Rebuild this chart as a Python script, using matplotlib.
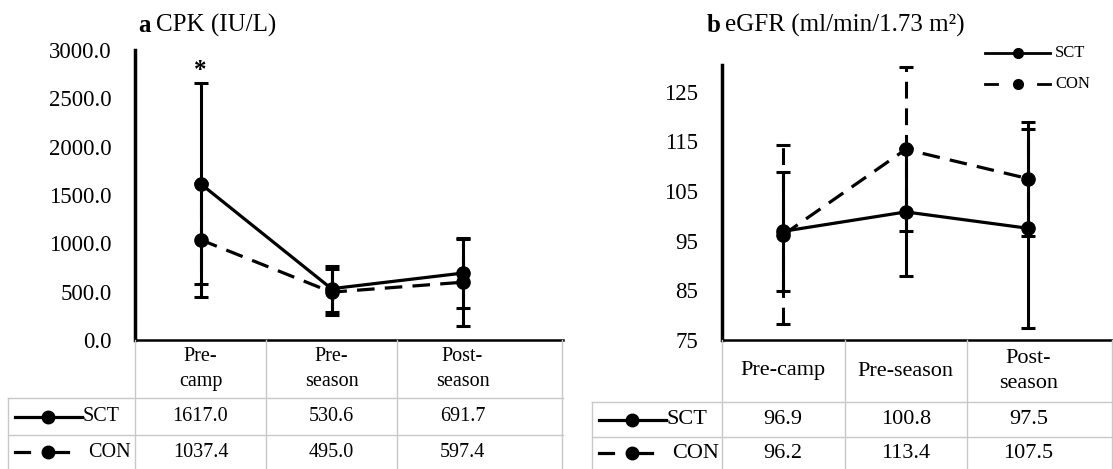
import matplotlib
matplotlib.use("Agg")
import matplotlib.pyplot as plt
from matplotlib.lines import Line2D
from matplotlib import transforms

plt.rcParams['font.family'] = ['Liberation Serif', 'DejaVu Serif']

stages_a = ['Pre-\ncamp', 'Pre-\nseason', 'Post-\nseason']
stages_b = ['Pre-camp', 'Pre-season', 'Post-\nseason']
groups = ['SCT', 'CON']

cpk_sct = [1617.0, 530.6, 691.7]
cpk_con = [1037.4, 495.0, 597.4]
cpk_sct_sd = [1040, 240, 360]
cpk_con_sd = [590, 235, 450]

egfr_sct = [96.9, 100.8, 97.5]
egfr_con = [96.2, 113.4, 107.5]
egfr_sct_sd = [12.0, 12.9, 20.0]
egfr_con_sd = [18.0, 16.5, 11.5]

W, H = 1113, 469
fig = plt.figure(figsize=(W / 100, H / 100), dpi=100)

def fx(px):
    return px / W

def fy(py):
    return 1 - py / H

GRID = '#c8c8c8'
FS_TICK = 16.5
LW = 2.3
DASH = (0, (5.5, 3.2))


def panel(x0, x1, ytop, colw, ylim, sct, sct_sd, con, con_sd):
    ax = fig.add_axes([fx(x0), fy(340), fx(x1) - fx(x0), fy(ytop) - fy(340)])
    xs = range(len(sct))
    e = ax.errorbar(xs, con, yerr=con_sd, fmt='o', ls=DASH, color='k',
                    lw=LW, ms=9.5, capsize=5, capthick=2.2, elinewidth=2.2, zorder=3)
    e[2][0].set_linestyle(DASH)
    ax.errorbar(xs, sct, yerr=sct_sd, fmt='o-', color='k', lw=LW, ms=9.5,
                capsize=5, capthick=2.2, elinewidth=2.2, zorder=4)
    ax.set_xlim(-0.5, -0.5 + (x1 - x0) / colw)
    ax.set_ylim(*ylim)
    ax.set_xticks([])
    for s in ['top', 'right']:
        ax.spines[s].set_visible(False)
    ax.spines['left'].set_linewidth(2.5)
    ax.spines['bottom'].set_linewidth(1.8)
    ax.tick_params(axis='y', length=0, pad=17, labelsize=FS_TICK)
    return ax


def table(ax, x1, xleg, rows, header, sct, con, fs):
    tr = transforms.blended_transform_factory(ax.transData, fig.transFigure)
    r1, r2 = rows
    n = len(sct)
    # vertical column lines
    for i in range(n):
        xb = ax.transData.transform((i - 0.5, 0))[0]
        xb = fig.transFigure.inverted().transform((xb, 0))[0]
        fig.add_artist(Line2D([xb, xb], [fy(340), fy(H)], color=GRID, lw=1))
    fig.add_artist(Line2D([fx(x1) - 0.0008] * 2, [fy(340), fy(H)], color=GRID, lw=1))
    fig.add_artist(Line2D([fx(xleg)] * 2, [fy(r1), fy(H)], color=GRID, lw=1))
    for r in [r1, r2]:
        fig.add_artist(Line2D([fx(xleg), fx(x1)], [fy(r), fy(r)], color=GRID, lw=1))
    for i in range(n):
        ax.text(i, fy((340 + r1) / 2), header[i], transform=tr, ha='center',
                va='center', fontsize=fs, linespacing=1.45)
        ax.text(i, fy((r1 + r2) / 2), '{:.1f}'.format(sct[i]), transform=tr,
                ha='center', va='center', fontsize=fs)
        ax.text(i, fy((r2 + H) / 2), '{:.1f}'.format(con[i]), transform=tr,
                ha='center', va='center', fontsize=fs)
    # legend keys
    ys = fy((r1 + r2) / 2)
    yc = fy((r2 + H) / 2)
    a, m, b = xleg + 7, xleg + 40, xleg + 74
    fig.add_artist(Line2D([fx(a), fx(b)], [ys, ys], color='k', lw=LW))
    fig.add_artist(Line2D([fx(m)], [ys], marker='o', ms=9, color='k'))
    fig.add_artist(Line2D([fx(a), fx(a + 14)], [yc, yc], color='k', lw=LW))
    fig.add_artist(Line2D([fx(m), fx(b - 14)], [yc, yc], color='k', lw=LW))
    fig.add_artist(Line2D([fx(m)], [yc], marker='o', ms=9, color='k'))
    fig.text(fx(b + 1), ys, groups[0], ha='left', va='center', fontsize=fs)
    fig.text(fx(b + 6), yc, groups[1], ha='left', va='center', fontsize=fs)


# panel a
ax1 = panel(135, 563, 50, 131, (0, 3000), cpk_sct, cpk_sct_sd, cpk_con, cpk_con_sd)
ax1.set_yticks([0, 500, 1000, 1500, 2000, 2500, 3000])
ax1.set_yticklabels(['{:.1f}'.format(v) for v in ax1.get_yticks()])
ax1.text(0, cpk_sct[0] + cpk_sct_sd[0] + 130, '*', ha='center', va='center',
         fontsize=18, fontweight='bold')
table(ax1, 563, 8, (398, 435), stages_a, cpk_sct, cpk_con, 14.5)
fig.text(fx(138), fy(25), 'a', fontsize=18, va='center', fontweight='bold')
fig.text(fx(156), fy(25), 'CPK (IU/L)', fontsize=18, va='center')

# panel b
ax2 = panel(722, 1113, 65, 122.5, (75, 130.4), egfr_sct, egfr_sct_sd, egfr_con, egfr_con_sd)
ax2.set_yticks([75, 85, 95, 105, 115, 125])
table(ax2, 1113, 592, (402, 437), stages_b, egfr_sct, egfr_con, 16)
fig.text(fx(707), fy(25), 'b', fontsize=18, va='center', fontweight='bold')
fig.text(fx(725), fy(25), 'eGFR (ml/min/1.73 m²)', fontsize=18, va='center')

# top-right legend
for yy, g in [(53, 'SCT'), (84, 'CON')]:
    if g == 'SCT':
        fig.add_artist(Line2D([fx(985), fx(1050)], [fy(yy)] * 2, color='k', lw=2))
    else:
        fig.add_artist(Line2D([fx(985), fx(997)], [fy(yy)] * 2, color='k', lw=2))
        fig.add_artist(Line2D([fx(1038), fx(1050)], [fy(yy)] * 2, color='k', lw=2))
    fig.add_artist(Line2D([fx(1018)], [fy(yy)], marker='o', ms=7, color='k'))
    fig.text(fx(1055), fy(yy), g, fontsize=12, va='center')

fig.savefig('out.png', dpi=100)
